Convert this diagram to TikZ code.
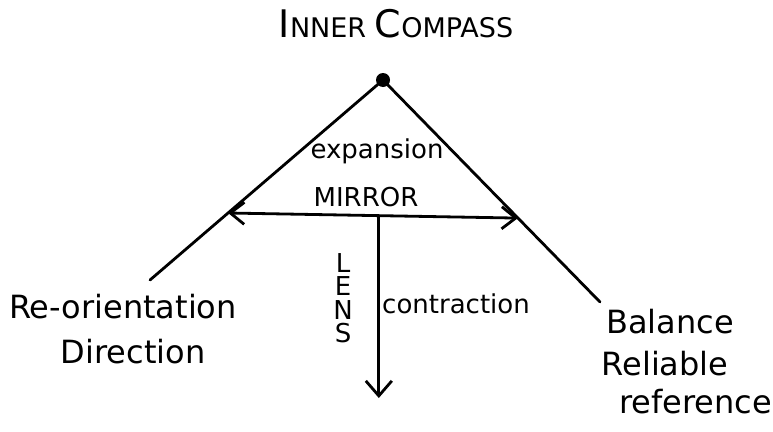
\documentclass[tikz,border=0pt]{standalone}
\usepackage{fontspec}
\setmainfont{DejaVu Sans}
\usetikzlibrary{arrows.meta,calc}
\tikzset{
  stroke/.style={line width=2.8pt, line cap=round, draw=black},
  flow/.style={stroke, -{Straight Barb[length=15pt,width=26pt]}},
  twoway/.style={stroke, {Straight Barb[length=14pt,width=22pt]}-{Straight Barb[length=14pt,width=22pt]}},
  apexdot/.style={circle, fill=black, inner sep=0pt, minimum size=14pt},
  word/.style={inner sep=0pt, anchor=base, font=\fontsize{32}{34}\selectfont},
  smallword/.style={word, font=\fontsize{26}{28}\selectfont},
}
\begin{document}
\begin{tikzpicture}[x=1pt,y=-1pt]
  \useasboundingbox (0,0) rectangle (773,431);
  \coordinate (apex) at (383,80);
  \coordinate (leftend) at (150,280);
  \coordinate (rightend) at (600,302);
  \coordinate (mirrorL) at ($(apex)!0.665!(leftend)$);
  \coordinate (mirrorR) at ($(apex)!0.622!(rightend)$);
  \coordinate (lensTop) at ($(mirrorL)!0.52!(mirrorR)$);
  \coordinate (lensEnd) at (lensTop |- 0,398);
  \draw[stroke] (leftend) -- (apex) -- (rightend);
  \node[apexdot] (dot) at (apex) {};
  \draw[twoway] (mirrorL) -- (mirrorR);
  \draw[flow] (lensTop) -- (lensEnd);
  \node[smallword, font=\fontsize{27}{29}\selectfont] (title) at (396,37) {{\fontsize{38}{40}\selectfont I}NNER {\fontsize{38}{40}\selectfont C}OMPASS};
  \node[smallword] (expansion) at (377,158) {expansion};
  \node[smallword] (mirror) at (366,206) {MIRROR};
  \node[smallword, anchor=base west] (contraction) at (382,313) {contraction};
  \node[align=center, inner sep=0pt, font=\fontsize{26}{23.5}\selectfont] (lens) at (343,298) {L\\E\\N\\S};
  \node[word] (reorient) at (123,318) {Re-orientation};
  \node[word] (direction) at (133,363) {Direction};
  \node[word] (balance) at (670,333) {Balance};
  \node[word] (reliable) at (665,375) {Reliable};
  \node[word, anchor=base east] (reference) at (772,413) {reference};
\end{tikzpicture}
\end{document}
